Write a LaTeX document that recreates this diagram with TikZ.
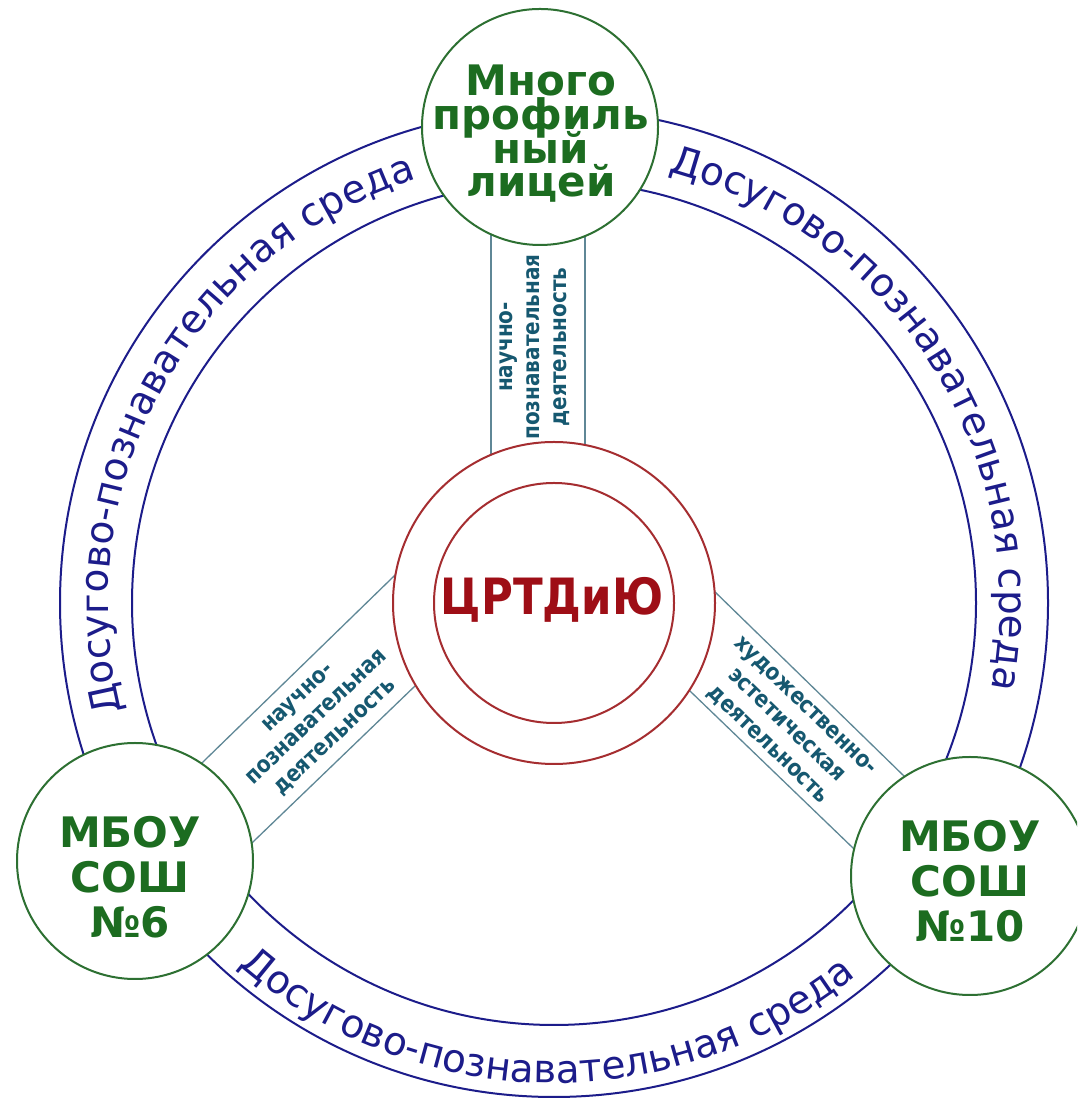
\documentclass[tikz,border=0pt]{standalone}
\usepackage{fontspec}
\setmainfont{DejaVu Sans}
\newfontfamily\condfam{DejaVu Sans}[FakeStretch=0.87]
\usetikzlibrary{decorations.text}
\definecolor{ringblue}{RGB}{28,28,138}
\definecolor{circgreen}{RGB}{45,112,50}
\definecolor{titlegreen}{RGB}{28,108,32}
\definecolor{circred}{RGB}{165,45,48}
\definecolor{titlered}{RGB}{158,14,22}
\definecolor{bandline}{RGB}{95,135,150}
\definecolor{bandtextc}{RGB}{22,88,112}
\newcommand\ringfont{\fontsize{39}{41}\selectfont}
\begin{document}
\begin{tikzpicture}[x=1pt,y=1pt,
 ring/.style={draw=ringblue, line width=2pt},
 ringtext/.style={decorate, decoration={text along path, text align=center, text color=ringblue, text={|\ringfont|Досугово-познавательная среда}}},
 bandedge/.style={draw=bandline, line width=1.3pt},
 greencirc/.style={circle, draw=circgreen, line width=2pt, fill=white, inner sep=0pt},
 redcirc/.style={circle, draw=circred, line width=2pt, fill=white, inner sep=0pt},
 title/.style={text=titlegreen, align=center, inner sep=0pt, font={\bfseries\fontsize{42}{45}\selectfont\lineskiplimit=-100pt}},
 centertext/.style={text=titlered, inner sep=0pt, font={\condfam\bfseries\fontsize{50}{52}\selectfont}},
 bandtext/.style={text=bandtextc, align=center, inner sep=0pt, font={\condfam\bfseries\fontsize{23}{27}\selectfont\lineskiplimit=-100pt}},
]
\useasboundingbox (0,0) rectangle (1077,1100);
\clip (0,0) rectangle (1077,1100);
\fill[white] (0,0) rectangle (1077,1100);

\coordinate (C) at (554,497);
% ring
\draw[ring] (C) circle[radius=494pt];
\draw[ring] (C) circle[radius=422pt];
% ring texts
\path[ringtext, shift={(554,497)}] (200:446pt) arc[start angle=200, end angle=102, radius=446pt];
\path[ringtext, shift={(554,497)}] (81:446pt) arc[start angle=81, end angle=-17, radius=446pt];
\path[ringtext, shift={(554,497)}] (219:480pt) arc[start angle=219, end angle=319, radius=480pt];

% band edges
\coordinate (ta1) at (491,880); \coordinate (ta2) at (491,620);
\coordinate (tb1) at (585,880); \coordinate (tb2) at (585,620);
\coordinate (la1) at (194.2,329.5); \coordinate (la2) at (400.8,530.5);
\coordinate (lb1) at (244.2,249.6); \coordinate (lb2) at (425.8,424.4);
\coordinate (ra1) at (913.7,314.5); \coordinate (ra2) at (705.3,517.5);
\coordinate (rb1) at (863.8,241.6); \coordinate (rb2) at (680.2,418.4);
\draw[bandedge] (ta1) -- (ta2);
\draw[bandedge] (tb1) -- (tb2);
\draw[bandedge] (la1) -- (la2);
\draw[bandedge] (lb1) -- (lb2);
\draw[bandedge] (ra1) -- (ra2);
\draw[bandedge] (rb1) -- (rb2);

% circles
\node[greencirc, minimum size=236pt] (T) at (540,973) {};
\node[greencirc, minimum size=236pt] (L) at (135,239) {};
\node[greencirc, minimum size=238pt] (R) at (970,224) {};
\node[redcirc, minimum size=322pt] (O) at (C) {};
\node[redcirc, minimum size=240pt] (I) at (C) {};

% texts
\node[title, font={\bfseries\fontsize{42}{33.7}\selectfont\lineskiplimit=-100pt}] (Tt) at (541,966) {Много\\профиль\\ный\\лицей};
\node[title] (Lt) at (130,223) {МБОУ\\СОШ\\№6};
\node[title] (Rt) at (970,218.5) {МБОУ\\СОШ\\№10};
\node[centertext, anchor=base] (Ct) at (552,485) {ЦРТДиЮ};

\node[bandtext, rotate=90] (tbt) at (535,753) {научно-\\познавательная\\деятельность};
\node[bandtext, rotate=43.5] (lbt) at (317,382) {научно-\\познавательная\\деятельность};
\node[bandtext, rotate=-44] (rbt) at (786,374) {художественно-\\эстетическая\\деятельность};
\end{tikzpicture}
\end{document}
